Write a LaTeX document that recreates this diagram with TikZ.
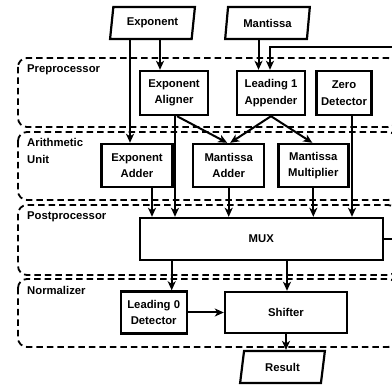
\documentclass[tikz,border=0pt]{standalone}
\usepackage{fontspec}
\setmainfont{Liberation Sans}
\usetikzlibrary{shapes.geometric,arrows.meta}
\begin{document}
\begin{tikzpicture}[x=1pt,y=-1pt,
  every node/.style={font=\bfseries\fontsize{11.3}{16.5}\selectfont, inner sep=0pt, align=center},
  box/.style={draw, line width=2.4pt, rectangle},
  para/.style={draw, line width=2.2pt, trapezium, trapezium left angle=78, trapezium right angle=102,
    trapezium stretches=true, minimum width=85pt, minimum height=32pt},
  region/.style={draw, line width=1.8pt, dash pattern=on 6.5pt off 4pt, rounded corners=9pt},
  lbl/.style={anchor=west, align=left},
  arr/.style={line width=2pt, -{Stealth[length=9pt,width=8pt,inset=2.5pt]}}
]
\path[use as bounding box, clip] (0,0) rectangle (392,385);

% regions
\draw[region] (18,58) rectangle (397,127);
\draw[region] (18,132) rectangle (397,200);
\draw[region] (18,205) rectangle (397,275);
\draw[region] (18,279) rectangle (397,347);
\node[lbl] (lpre) at (27,70) {Preprocessor};
\node[lbl] (lari) at (27,151) {Arithmetic\\Unit};
\node[lbl] (lpost) at (27,217) {Postprocessor};
\node[lbl] (lnorm) at (27,290) {Normalizer};

% inputs / output
\node[para] (expo) at (152.5,23) {Exponent};
\node[para] (mant) at (267.5,23) {Mantissa};
\node[para] (res) at (282.5,367) {Result};

% boxes
\node[box, minimum width=68pt, minimum height=44pt] (ealign) at (174,93) {Exponent\\Aligner};
\node[box, minimum width=68pt, minimum height=44pt] (l1a) at (271,93) {Leading 1\\Appender};
\node[box, minimum width=55pt, minimum height=44pt] (zdet) at (344,93) {Zero\\Detector};
\node[box, minimum width=71pt, minimum height=43pt] (eadd) at (137,165.5) {Exponent\\Adder};
\node[box, minimum width=71pt, minimum height=43pt] (madd) at (228.7,165.5) {Mantissa\\Adder};
\node[box, minimum width=70pt, minimum height=43pt] (mmul) at (313.3,165.5) {Mantissa\\Multiplier};
\node[box, minimum width=243pt, minimum height=42pt] (mux) at (261.3,239) {MUX};
\node[box, minimum width=66pt, minimum height=42pt] (l0d) at (153.7,312.5) {Leading 0\\Detector};
\node[box, minimum width=122pt, minimum height=41pt] (shift) at (286,312.5) {Shifter};

\coordinate (fb) at (399,47);

% connectors
\draw[arr] ([xshift=-22.5pt]expo.south) -- ([xshift=-22.5pt]expo.south |- eadd.north);
\draw[arr] ([xshift=7.5pt]expo.south) -- ([xshift=7.5pt]expo.south |- ealign.north);
\draw[arr] ([xshift=-9pt]mant.south) -- ([xshift=-9pt]mant.south |- l1a.north);
\draw[arr] (mux.east) -| (fb) -| ([xshift=-1pt]l1a.north);
\draw[arr] ([xshift=1pt]ealign.south) -- ([xshift=1pt]ealign.south |- mux.north);
\draw[arr] ([xshift=3pt]ealign.south) -- ([xshift=-1.5pt]madd.north);
\draw[arr] (l1a.south) -- ([xshift=1.5pt]madd.north);
\draw[arr] (l1a.south) -- ([xshift=-1pt]mmul.north);
\draw[arr] ([xshift=8pt]zdet.south) -- ([xshift=8pt]zdet.south |- mux.north);
\draw[arr] ([xshift=15pt]eadd.south) -- ([xshift=15pt]eadd.south |- mux.north);
\draw[arr] (madd.south) -- (madd.south |- mux.north);
\draw[arr] (mmul.south) -- (mmul.south |- mux.north);
\draw[arr] ([xshift=18pt]l0d.north |- mux.south) -- ([xshift=18pt]l0d.north);
\draw[arr] ([xshift=1pt]shift.north |- mux.south) -- ([xshift=1pt]shift.north);
\draw[arr] (l0d.east) -- (shift.west);
\draw[arr] (shift.south) -- (shift.south |- res.north);
\end{tikzpicture}
\end{document}
